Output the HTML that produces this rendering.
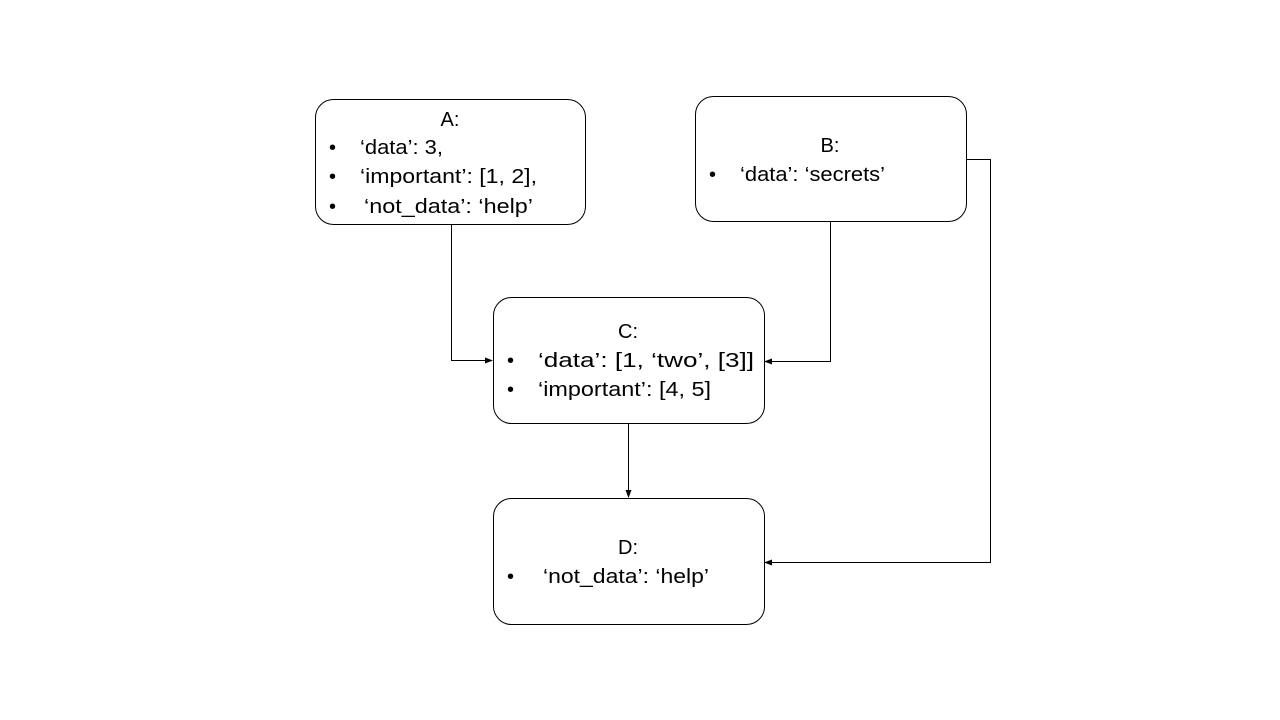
<!DOCTYPE html>
<html><head><meta charset="utf-8"><style>
html,body{margin:0;padding:0;background:#fff;}
svg{display:block;font-family:"Liberation Sans",sans-serif;font-size:20px;}
</style></head><body>
<svg width="1280" height="720" viewBox="0 0 1280 720" xmlns="http://www.w3.org/2000/svg">
<defs><marker id="ar" markerWidth="8" markerHeight="8" refX="7" refY="4" orient="auto" markerUnits="userSpaceOnUse"><path d="M0,1 L8,4 L0,7 z" fill="#000"/></marker></defs>
<g fill="none" stroke="#000" stroke-width="1">
<rect x="315.5" y="99.5" width="270" height="125" rx="18"/>
<rect x="695.5" y="96.5" width="271" height="125" rx="18"/>
<rect x="493.5" y="297.5" width="271" height="126" rx="18"/>
<rect x="493.5" y="498.5" width="271" height="126" rx="18"/>
<path d="M451.5,225 V360.5 H492" marker-end="url(#ar)"/>
<path d="M830.5,222 V361.5 H765" marker-end="url(#ar)"/>
<path d="M628.5,424 V497" marker-end="url(#ar)"/>
<path d="M967,159.5 H990.5 V562.5 H765" marker-end="url(#ar)"/>
</g>
<g fill="#000" lengthAdjust="spacingAndGlyphs">
<text x="450" y="126" text-anchor="middle">A:</text>
<text x="329" y="154">•</text><text x="360" y="154" textLength="83" lengthAdjust="spacingAndGlyphs">‘data’: 3,</text>
<text x="329" y="183">•</text><text x="360" y="183" textLength="177" lengthAdjust="spacingAndGlyphs">‘important’: [1, 2],</text>
<text x="329" y="213">•</text><text x="364" y="213" textLength="169" lengthAdjust="spacingAndGlyphs">‘not_data’: ‘help’</text>
<text x="830" y="152" text-anchor="middle">B:</text>
<text x="709" y="181">•</text><text x="740" y="181" textLength="145" lengthAdjust="spacingAndGlyphs">‘data’: ‘secrets’</text>
<text x="628" y="338" text-anchor="middle">C:</text>
<text x="507" y="367">•</text><text x="538" y="367" textLength="216" lengthAdjust="spacingAndGlyphs">‘data’: [1, ‘two’, [3]]</text>
<text x="507" y="396">•</text><text x="538" y="396" textLength="173" lengthAdjust="spacingAndGlyphs">‘important’: [4, 5]</text>
<text x="628" y="554" text-anchor="middle">D:</text>
<text x="507" y="583">•</text><text x="543" y="583" textLength="166" lengthAdjust="spacingAndGlyphs">‘not_data’: ‘help’</text>
</g>
</svg>
</body></html>
